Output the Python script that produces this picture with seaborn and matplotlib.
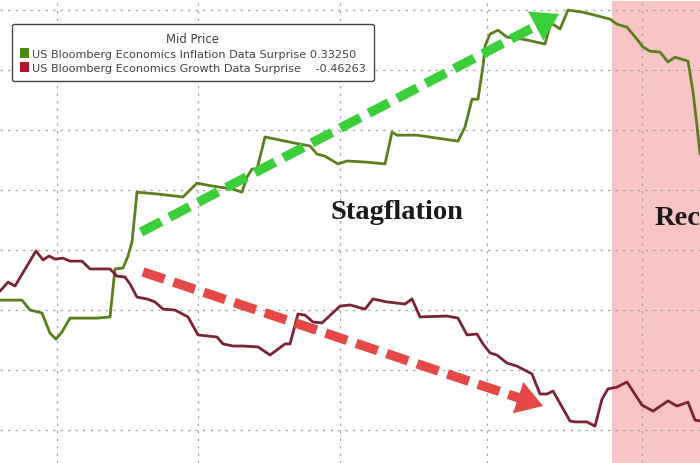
import numpy as np
import pandas as pd
import matplotlib
matplotlib.use("Agg")
import matplotlib.pyplot as plt
from matplotlib.patches import Patch
import seaborn as sns

# ---- data (x = trading-day position, y = surprise index) ----
infl_x = [0, 22, 30, 42, 50, 56, 62, 70, 97, 110, 115, 123, 128, 132, 137, 157, 183, 197,
          213, 233, 242, 247, 252, 257, 265, 300, 310, 317, 325, 338, 347, 367, 385, 392,
          397, 417, 458, 465, 472, 478, 483, 485, 490, 498, 507, 523, 545, 550, 553, 560,
          568, 583, 610, 617, 627, 637, 643, 650, 660, 668, 675, 688, 693, 697, 700]
infl_y = [-0.167, -0.167, -0.200, -0.210, -0.277, -0.297, -0.273, -0.227, -0.227, -0.223,
          -0.063, -0.060, -0.020, 0.027, 0.193, 0.187, 0.177, 0.223, 0.213, 0.203, 0.193,
          0.243, 0.270, 0.270, 0.377, 0.353, 0.347, 0.320, 0.313, 0.287, 0.297, 0.293,
          0.287, 0.393, 0.383, 0.383, 0.363, 0.410, 0.503, 0.503, 0.613, 0.680, 0.720,
          0.733, 0.710, 0.703, 0.687, 0.747, 0.753, 0.737, 0.800, 0.793, 0.770, 0.753,
          0.743, 0.703, 0.677, 0.663, 0.660, 0.627, 0.643, 0.630, 0.527, 0.413, 0.320]

growth_x = [0, 8, 15, 27, 36, 43, 49, 55, 63, 70, 82, 90, 110, 117, 125, 130, 137, 147,
            155, 163, 175, 188, 198, 217, 223, 233, 243, 258, 270, 285, 290, 298, 305, 313,
            322, 340, 350, 365, 373, 387, 405, 412, 420, 447, 458, 467, 477, 483, 490, 497,
            507, 517, 532, 540, 547, 553, 570, 575, 587, 595, 602, 608, 617, 627, 642, 653,
            668, 677, 688, 695, 700]
growth_y = [-0.137, -0.107, -0.120, -0.053, -0.003, -0.033, -0.020, -0.030, -0.027, -0.037,
            -0.037, -0.063, -0.063, -0.087, -0.090, -0.113, -0.157, -0.163, -0.173, -0.197,
            -0.200, -0.223, -0.283, -0.290, -0.313, -0.320, -0.320, -0.323, -0.350, -0.313,
            -0.313, -0.213, -0.217, -0.240, -0.243, -0.187, -0.183, -0.197, -0.163, -0.173,
            -0.180, -0.163, -0.223, -0.220, -0.227, -0.283, -0.280, -0.313, -0.343, -0.350,
            -0.377, -0.387, -0.413, -0.480, -0.480, -0.470, -0.570, -0.573, -0.573, -0.587,
            -0.497, -0.463, -0.457, -0.440, -0.517, -0.537, -0.503, -0.520, -0.507, -0.567,
            -0.570]

series_names = ["US Bloomberg Economics Inflation Data Surprise",
                "US Bloomberg Economics Growth Data Surprise"]
last_values = ["0.33250", "-0.46263"]
line_colors = ["#5b7f1e", "#7b2236"]
legend_colors = ["#4f8a10", "#b5122d"]

month_ticks = [57, 198, 340, 487, 642]
y_grid = [-0.6, -0.4, -0.2, 0.0, 0.2, 0.4, 0.6, 0.8]

recession_start = 612
up_arrow = [(141, 0.06), (559, 0.787)]
down_arrow = [(143, -0.073), (543, -0.52)]

df = pd.concat([
    pd.DataFrame({"t": infl_x, "value": infl_y, "series": series_names[0]}),
    pd.DataFrame({"t": growth_x, "value": growth_y, "series": series_names[1]}),
])

sns.set_style("white")
fig = plt.figure(figsize=(7, 4.64), dpi=100)
ax = fig.add_axes([0, 0, 1, 1])

ax.axvspan(recession_start, 720, ymin=0, ymax=0.995, color="#f9c4c6", zorder=0, lw=0)

sns.lineplot(data=df, x="t", y="value", hue="series", palette=line_colors,
             estimator=None, sort=False, lw=2.0, legend=False, ax=ax, zorder=3)


def dashed_arrow(p0, p1, color):
    (x0, y0), (x1, y1) = p0, p1
    # dashed shaft up to the base of a solid head
    f = 0.95
    xs, ys = x0 + (x1 - x0) * f, y0 + (y1 - y0) * f
    ax.plot([x0, xs], [y0, ys], color=color, lw=6.8, dashes=(2.4, 1.0),
            solid_capstyle="butt", dash_capstyle="butt", zorder=4)
    ax.annotate("", xy=(x1, y1), xytext=(xs, ys),
                arrowprops=dict(arrowstyle="-|>,head_width=0.85,head_length=1.35",
                                color=color, lw=0, mutation_scale=14, shrinkA=0, shrinkB=0),
                zorder=5)


dashed_arrow(up_arrow[0], up_arrow[1], "#3ccf3c")
dashed_arrow(down_arrow[0], down_arrow[1], "#e64848")

ax.text(397, 0.13, "Stagflation", fontsize=20.5, fontweight="bold",
        family="Liberation Serif", ha="center", va="center", color="#1a1a1a", zorder=6)
ax.text(655, 0.11, "Recession", fontsize=20.5, fontweight="bold",
        family="Liberation Serif", ha="left", va="center", color="#1a1a1a", zorder=6)

ax.set_xlim(0, 700)
ax.set_ylim(-0.71, 0.837)
ax.set_xticks(month_ticks)
ax.set_yticks(y_grid)
ax.set_xlabel("")
ax.set_ylabel("")
ax.tick_params(length=0, labelbottom=False, labelleft=False)
ax.grid(True, color="#a8a8a8", lw=0.9, linestyle=(0, (2, 4)))
for s in ax.spines.values():
    s.set_visible(False)

handles = [Patch(facecolor=c, edgecolor="none") for c in legend_colors]
labels = [series_names[0] + " " + last_values[0],
          series_names[1] + "    " + last_values[1]]
leg = ax.legend(handles, labels, title="Mid Price", loc="upper left",
                bbox_to_anchor=(12 / 700, 1 - 25 / 464), borderaxespad=0,
                frameon=True, fancybox=True,
                fontsize=8.1, title_fontsize=8.4, handlelength=0.8, handleheight=1.0,
                handletextpad=0.3, borderpad=0.68, labelspacing=0.3, framealpha=1)
leg.get_frame().set_edgecolor("#444444")
leg.get_frame().set_linewidth(1.0)
leg.get_title().set_color("#444444")
for t in leg.get_texts():
    t.set_color("#444444")
leg.set_zorder(10)

fig.savefig("out.png", dpi=100)
